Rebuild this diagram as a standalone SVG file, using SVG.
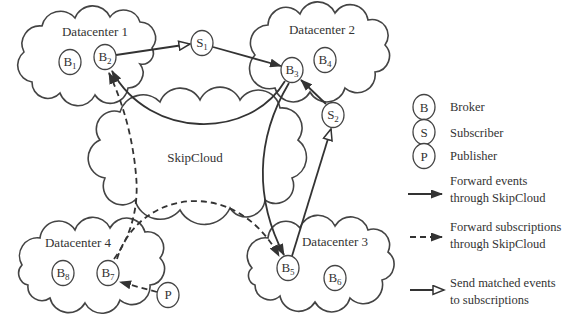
<svg xmlns="http://www.w3.org/2000/svg" width="576" height="334" viewBox="0 0 576 334">
<style>
.cloud{fill:none;stroke:#444;stroke-width:1.6}
.node{fill:#fff;stroke:#444;stroke-width:1.3}
.t{font-family:"Liberation Serif",serif;font-size:13px;fill:#333}
.lt{font-family:"Liberation Serif",serif;font-size:12.5px;fill:#333}
.nl{font-family:"Liberation Serif",serif;font-size:13px;fill:#333;text-anchor:middle}
.sub{font-size:9px}
.solid{fill:none;stroke:#333;stroke-width:1.8}
.dash{fill:none;stroke:#333;stroke-width:1.8;stroke-dasharray:6 4}
</style>
<defs>
<marker id="fh" markerUnits="userSpaceOnUse" markerWidth="12" markerHeight="9" refX="11" refY="4.5" orient="auto">
<path d="M0,0 L12,4.5 L0,9 z" fill="#333"/>
</marker>
<marker id="oh" markerUnits="userSpaceOnUse" markerWidth="14" markerHeight="11" refX="12" refY="5.5" orient="auto">
<path d="M1,1 L12,5.5 L1,10 z" fill="#fff" stroke="#333" stroke-width="1.5"/>
</marker>
</defs>
<rect width="576" height="334" fill="#fff"/>

<g id="skipcloud">
<path class="cloud" d="M100,140 A18,18 0 0 1 120,112 A24,24 0 0 1 160,102 A22,22 0 0 1 200,100 A22,22 0 0 1 240,100 A22,22 0 0 1 280,108 A20,20 0 0 1 298,140 A22,22 0 0 1 292,178 A18,18 0 0 1 265,200 A19,19 0 0 1 230,208 A28,28 0 0 1 180,210 A26,26 0 0 1 135,200 A19,19 0 0 1 105,178 A20,20 0 0 1 100,140 Z"/>
<text class="t" x="195" y="162" text-anchor="middle">SkipCloud</text>
</g>

<g id="datacenter1">
<path class="cloud" d="M24,52 A18,18 0 0 1 42,26 A19,19 0 0 1 75,18 A19,19 0 0 1 110,17 A17,17 0 0 1 140,22 A16,16 0 0 1 152,48 A11,11 0 0 1 140,64 A15,15 0 0 1 128,88 A18,18 0 0 1 95,95 A19,19 0 0 1 60,93 A16,16 0 0 1 32,82 A17,17 0 0 1 24,52 Z"/>
<text class="t" x="95" y="36" text-anchor="middle">Datacenter 1</text>
</g>
<g id="datacenter2">
<path class="cloud" d="M255,55 A18,18 0 0 1 268,25 A18,18 0 0 1 300,14 A19,19 0 0 1 335,13 A18,18 0 0 1 368,20 A16,16 0 0 1 385,45 A16,16 0 0 1 375,72 A18,18 0 0 1 345,88 A19,19 0 0 1 310,92 A19,19 0 0 1 275,88 A20,20 0 0 1 255,55 Z"/>
<text class="t" x="322" y="34" text-anchor="middle">Datacenter 2</text>
</g>
<g id="datacenter3">
<path class="cloud" d="M252,268 A18,18 0 0 1 268,238 A18,18 0 0 1 300,228 A19,19 0 0 1 335,226 A18,18 0 0 1 368,230 A16,16 0 0 1 388,252 A16,16 0 0 1 382,280 A19,19 0 0 1 350,298 A19,19 0 0 1 315,302 A19,19 0 0 1 280,296 A15,15 0 0 1 255,285 A10,10 0 0 1 252,268 Z"/>
<text class="t" x="335" y="246" text-anchor="middle">Datacenter 3</text>
</g>
<g id="datacenter4">
<path class="cloud" d="M22,265 A18,18 0 0 1 40,238 A19,19 0 0 1 75,230 A19,19 0 0 1 110,228 A19,19 0 0 1 145,232 A16,16 0 0 1 160,258 A16,16 0 0 1 150,285 A18,18 0 0 1 120,300 A19,19 0 0 1 85,303 A19,19 0 0 1 50,298 A14,14 0 0 1 28,285 A12,12 0 0 1 22,265 Z"/>
<text class="t" x="78" y="247" text-anchor="middle">Datacenter 4</text>
</g>

<g id="connectors">
<path class="solid" d="M116,55 L190,44" marker-end="url(#oh)"/>
<path class="solid" d="M213,47 L281,66" marker-end="url(#fh)"/>
<path class="solid" d="M326,104 L301,80" marker-end="url(#fh)"/>
<path class="solid" d="M285,81 C250,140 150,140 112,71" marker-end="url(#fh)"/>
<path class="solid" d="M289,83 C255,140 255,200 284,255" marker-end="url(#fh)"/>
<path class="solid" d="M292,256 L331,129" marker-end="url(#oh)"/>
<path class="dash" d="M114,259 C132,235 139,205 136,175 C133,140 124,105 109,73" marker-end="url(#fh)"/>
<path class="dash" d="M117,259 C138,190 235,175 279,256" marker-end="url(#fh)"/>
<path class="dash" d="M157,292 L120,282" marker-end="url(#fh)"/>
</g>

<g id="B1"><ellipse class="node" cx="70" cy="62" rx="11" ry="12.5"/><text class="nl" x="70" y="66">B<tspan class="sub" dy="3">1</tspan></text></g>
<g id="B2"><ellipse class="node" cx="105" cy="57" rx="11" ry="12.5"/><text class="nl" x="105" y="61">B<tspan class="sub" dy="3">2</tspan></text></g>
<g id="S1"><ellipse class="node" cx="202" cy="43" rx="11" ry="12.5"/><text class="nl" x="202" y="47">S<tspan class="sub" dy="3">1</tspan></text></g>
<g id="B3"><ellipse class="node" cx="292" cy="70" rx="11" ry="12.5"/><text class="nl" x="292" y="74">B<tspan class="sub" dy="3">3</tspan></text></g>
<g id="B4"><ellipse class="node" cx="325" cy="60" rx="11" ry="12.5"/><text class="nl" x="325" y="64">B<tspan class="sub" dy="3">4</tspan></text></g>
<g id="S2"><ellipse class="node" cx="333" cy="115" rx="11" ry="12.5"/><text class="nl" x="333" y="119">S<tspan class="sub" dy="3">2</tspan></text></g>
<g id="B5"><ellipse class="node" cx="288" cy="268" rx="11" ry="12.5"/><text class="nl" x="288" y="272">B<tspan class="sub" dy="3">5</tspan></text></g>
<g id="B6"><ellipse class="node" cx="335" cy="278" rx="11" ry="12.5"/><text class="nl" x="335" y="282">B<tspan class="sub" dy="3">6</tspan></text></g>
<g id="B7"><ellipse class="node" cx="108" cy="273" rx="11" ry="12.5"/><text class="nl" x="108" y="277">B<tspan class="sub" dy="3">7</tspan></text></g>
<g id="B8"><ellipse class="node" cx="63" cy="273" rx="11" ry="12.5"/><text class="nl" x="63" y="277">B<tspan class="sub" dy="3">8</tspan></text></g>
<g id="P"><ellipse class="node" cx="168" cy="295" rx="11" ry="12.5"/><text class="nl" x="168" y="299">P</text></g>

<g id="legend">
<ellipse class="node" cx="424" cy="107" rx="11" ry="12.5"/><text class="nl" x="424" y="111.5">B</text>
<text class="lt" x="450" y="111">Broker</text>
<ellipse class="node" cx="424" cy="132" rx="11" ry="12.5"/><text class="nl" x="424" y="136.5">S</text>
<text class="lt" x="450" y="137">Subscriber</text>
<ellipse class="node" cx="424" cy="156" rx="11" ry="12.5"/><text class="nl" x="424" y="160.5">P</text>
<text class="lt" x="450" y="160">Publisher</text>
<path class="solid" d="M408,194 L442,194" marker-end="url(#fh)"/>
<text class="lt" x="450" y="185">Forward events</text>
<text class="lt" x="450" y="202">through SkipCloud</text>
<path class="dash" d="M410,237 L442,237" marker-end="url(#fh)"/>
<text class="lt" x="450" y="231">Forward subscriptions</text>
<text class="lt" x="450" y="248">through SkipCloud</text>
<path class="solid" d="M410,290 L444,290" marker-end="url(#oh)"/>
<text class="lt" x="450" y="287">Send matched events</text>
<text class="lt" x="450" y="304">to subscriptions</text>
</g>
</svg>
